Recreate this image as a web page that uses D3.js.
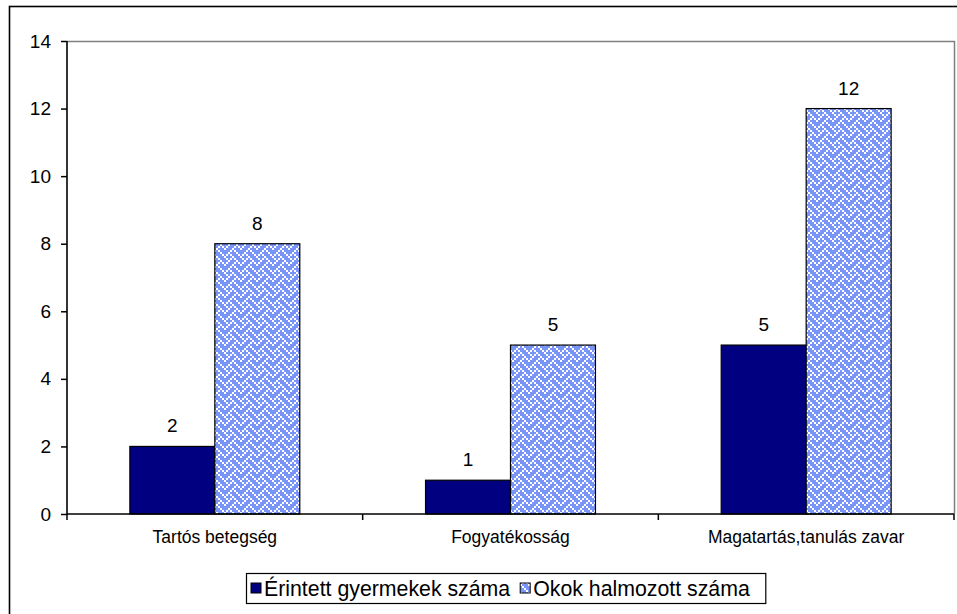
<!DOCTYPE html>
<html>
<head>
<meta charset="utf-8">
<script src="https://cdn.jsdelivr.net/npm/d3@7/dist/d3.min.js"></script>
<style>
  html, body { margin: 0; padding: 0; background: #fff; }
  svg { display: block; font-family: "Liberation Sans", Arial, sans-serif; }
</style>
</head>
<body>
<svg id="chart" width="957" height="614"></svg>
<script>
// ---- data ----
const categories = ["Tartós betegség", "Fogyatékosság", "Magatartás,tanulás zavar"];
const seriesNames = ["Érintett gyermekek száma", "Okok halmozott száma"];
const erintett = [2, 1, 5];
const okok = [8, 5, 12];
const yTicks = [0, 2, 4, 6, 8, 10, 12, 14];

const seriesValues = [erintett, okok];

// ---- layout ----
const svg = d3.select("#chart");
const plot = { left: 67, top: 41, right: 954, bottom: 514 };

// weave pattern (8x8 bitmap, scaled 2x)
const weaveBits = [0x88, 0x54, 0x22, 0x45, 0x88, 0x14, 0x22, 0x51];
const defs = svg.append("defs");
const pat = defs.append("pattern")
  .attr("id", "weave")
  .attr("patternUnits", "userSpaceOnUse")
  .attr("width", 16).attr("height", 16);
pat.append("rect").attr("width", 16).attr("height", 16).attr("fill", "#7a95f8");
weaveBits.forEach((b, r) => {
  for (let c = 0; c < 8; c++) {
    if (b & (0x80 >> c)) {
      pat.append("rect").attr("x", c * 2).attr("y", r * 2)
        .attr("width", 2).attr("height", 2).attr("fill", "#ffffff");
    }
  }
});
const fills = ["#000080", "url(#weave)"];

// outer chart border
svg.append("rect")
  .attr("x", 9.5).attr("y", 6.5)
  .attr("width", 960).attr("height", 640)
  .attr("fill", "none").attr("stroke", "#000").attr("stroke-width", 1.6);

// scales
const x0 = d3.scaleBand().domain(categories).range([plot.left, plot.right]).paddingInner(0).paddingOuter(0);
const x1 = d3.scaleBand().domain(seriesNames).range([0, x0.bandwidth()]).paddingInner(0).paddingOuter(0.74);
const y = d3.scaleLinear().domain([0, 14]).range([plot.bottom, plot.top]);

// plot area border (gray top + right)
svg.append("path")
  .attr("d", `M${plot.left},${plot.top + 0.5}H${plot.right + 0.5}V${plot.bottom}`)
  .attr("fill", "none").attr("stroke", "#808080").attr("stroke-width", 1.5);

// bars
categories.forEach((cat, ci) => {
  seriesNames.forEach((s, si) => {
    const v = seriesValues[si][ci];
    svg.append("rect")
      .attr("x", x0(cat) + x1(s))
      .attr("y", y(v))
      .attr("width", x1.bandwidth())
      .attr("height", y(0) - y(v))
      .attr("fill", fills[si])
      .attr("stroke", "#000").attr("stroke-width", 1.2);
    svg.append("text")
      .attr("x", x0(cat) + x1(s) + x1.bandwidth() / 2)
      .attr("y", y(v) - 14)
      .attr("text-anchor", "middle")
      .attr("font-size", 19)
      .attr("fill", "#000")
      .text(v);
  });
});

// y axis
const yAxis = d3.axisLeft(y).tickValues(yTicks).tickSize(6).tickPadding(10).tickFormat(d3.format("d"));
const gy = svg.append("g").attr("transform", `translate(${plot.left},0)`).call(yAxis);
gy.select(".domain").attr("stroke", "#000").attr("stroke-width", 1.6).attr("d", `M0,${plot.top}V${plot.bottom}`);
gy.selectAll(".tick line").attr("stroke", "#000").attr("stroke-width", 1.5);
gy.selectAll(".tick text").attr("font-size", 19).attr("fill", "#000")
  .attr("font-family", "Liberation Sans, Arial, sans-serif");

// x axis
const xAxis = d3.axisBottom(x0).tickSize(0).tickPadding(17);
const gx = svg.append("g").attr("transform", `translate(0,${plot.bottom})`).call(xAxis);
gx.select(".domain").attr("stroke", "#000").attr("stroke-width", 1.6).attr("d", `M${plot.left},0H${plot.right}`);
gx.selectAll(".tick text").attr("font-size", 17.5).attr("fill", "#000")
  .attr("font-family", "Liberation Sans, Arial, sans-serif");
// category boundary ticks
const bounds = categories.map(c => x0(c)).concat([x0(categories[categories.length - 1]) + x0.bandwidth()]);
gx.selectAll("line.bound").data(bounds).enter().append("line")
  .attr("class", "bound")
  .attr("x1", d => d).attr("x2", d => d)
  .attr("y1", 0).attr("y2", 6)
  .attr("stroke", "#000").attr("stroke-width", 1.5);

// legend
const lg = svg.append("g");
const lgBox = lg.append("rect")
  .attr("x", 246.5).attr("y", 573.5)
  .attr("height", 30)
  .attr("fill", "#fff").attr("stroke", "#000").attr("stroke-width", 1.2);
let cx = 251;
seriesNames.forEach((s, si) => {
  lg.append("rect")
    .attr("x", cx).attr("y", 583).attr("width", 10).attr("height", 10)
    .attr("fill", fills[si]).attr("stroke", "#000").attr("stroke-width", 1);
  const t = lg.append("text")
    .attr("x", cx + 13).attr("y", 596)
    .attr("font-size", 21.3).attr("fill", "#000")
    .text(s);
  cx += 13 + t.node().getComputedTextLength() + 10;
});
lgBox.attr("width", cx - 246.5 + 6);
</script>
</body>
</html>
